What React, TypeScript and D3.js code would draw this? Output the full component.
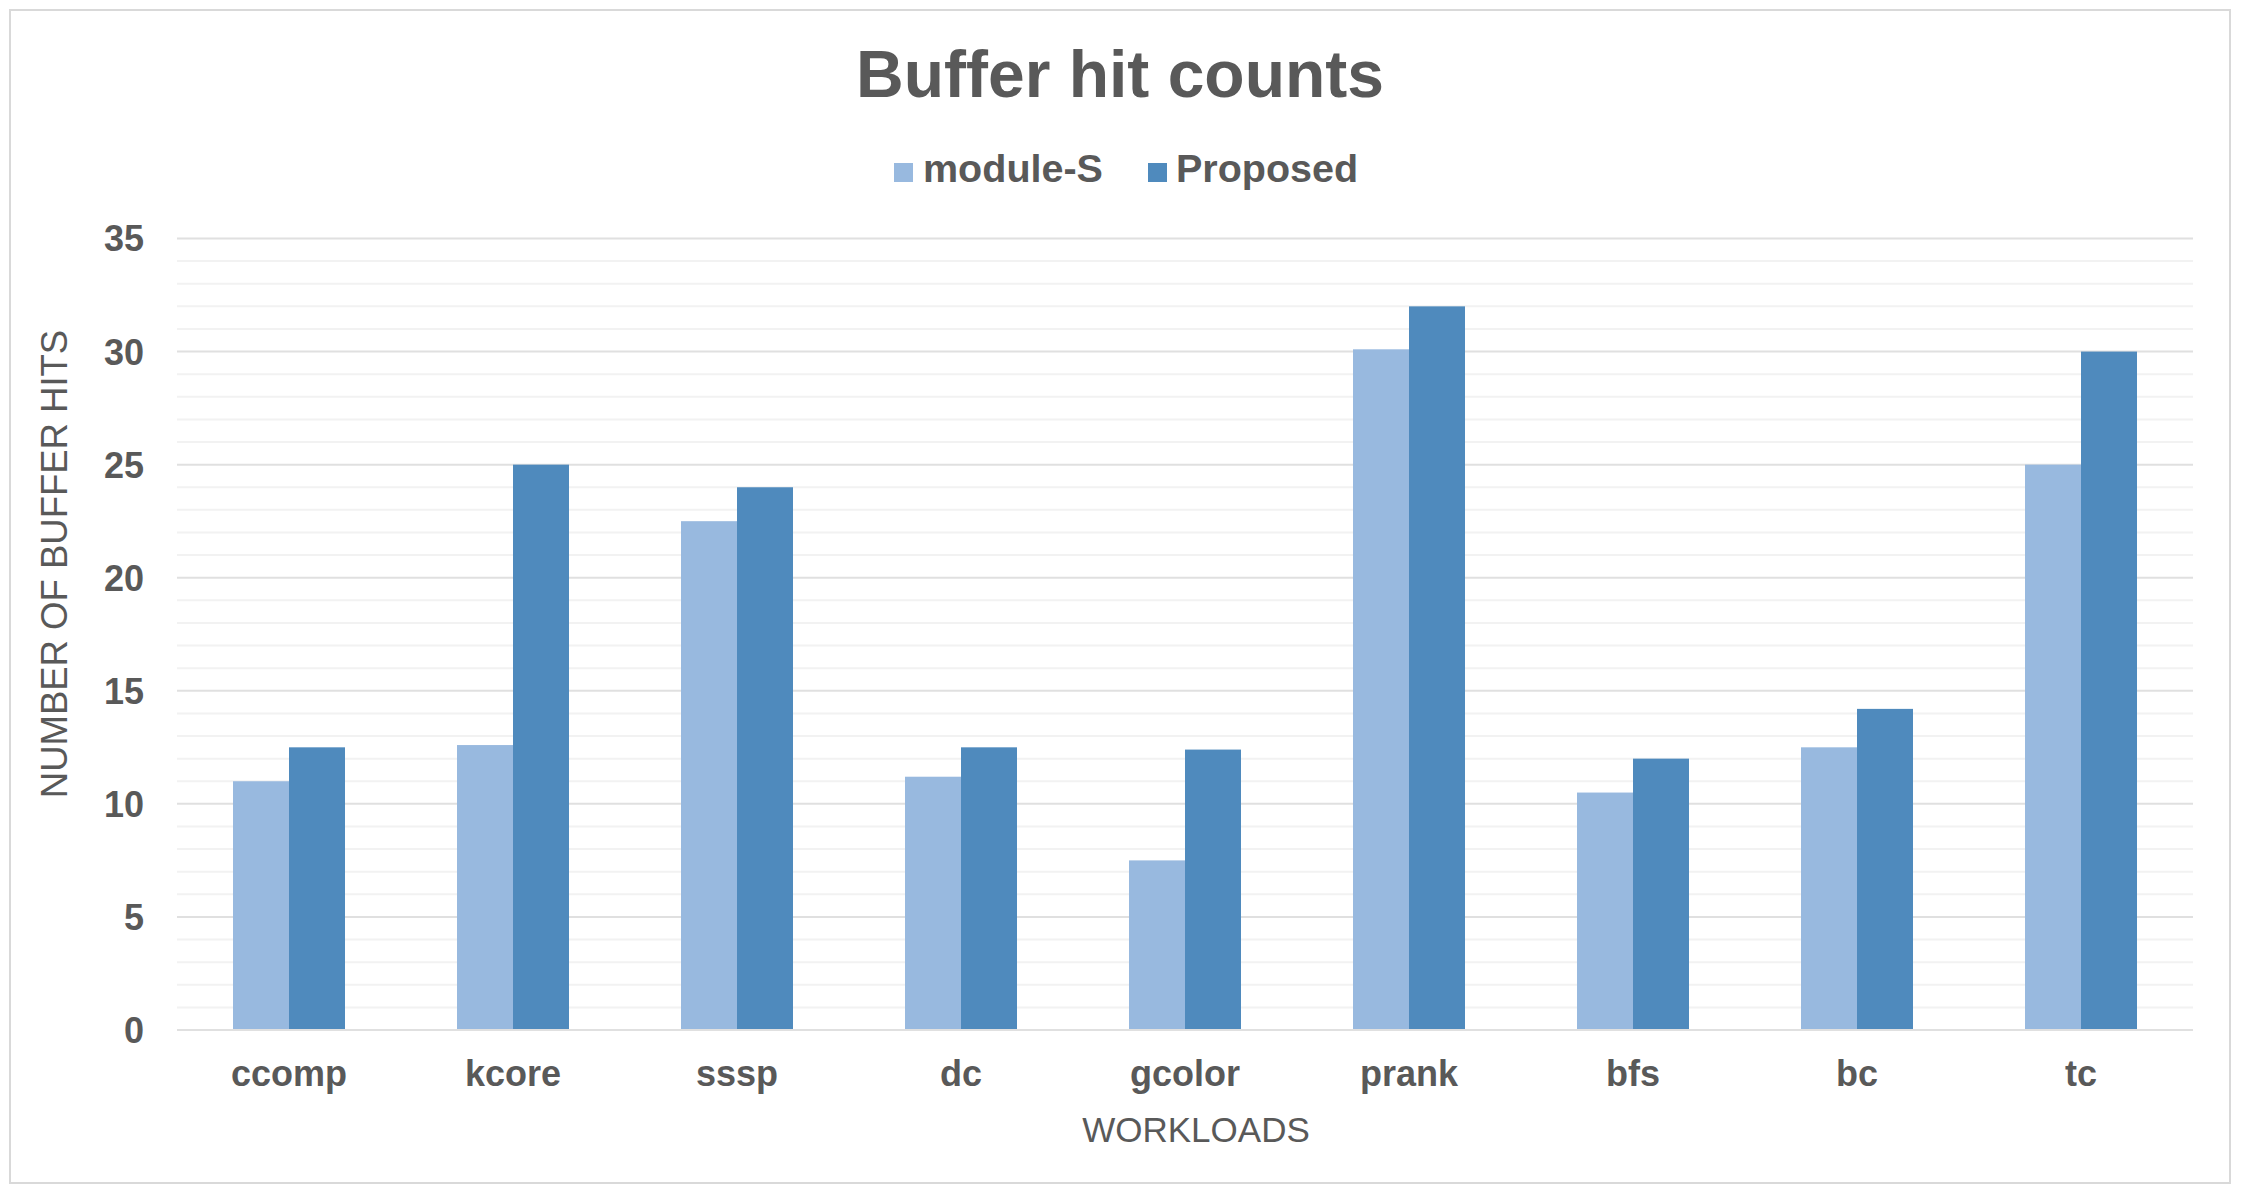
import React from "react";
import * as d3 from "d3";

const categories = ["ccomp", "kcore", "sssp", "dc", "gcolor", "prank", "bfs", "bc", "tc"];
const seriesNames = ["module-S", "Proposed"];
const moduleS = [11.0, 12.6, 22.5, 11.2, 7.5, 30.1, 10.5, 12.5, 25.0];
const proposed = [12.5, 25.0, 24.0, 12.5, 12.4, 32.0, 12.0, 14.2, 30.0];
const seriesColors = ["#98b9df", "#4f8abd"];
const majorTicks = [0, 5, 10, 15, 20, 25, 30, 35];
const minorTicks = d3.range(0, 36, 1);

const W = 2241;
const H = 1198;
const FONT = "'Liberation Sans', Arial, Helvetica, sans-serif";
const TEXT = "#595959";

export default function App() {
  const left = 177;
  const right = 2193;
  const top = 238.5;
  const bottom = 1030;

  const x0 = d3.scaleBand<string>().domain(categories).range([left, right]).padding(0);
  const bw = x0.bandwidth();
  const x1 = d3.scaleBand<string>().domain(seriesNames).range([bw * 0.25, bw * 0.75]).padding(0);
  const y = d3.scaleLinear().domain([0, 35]).range([bottom, top]);

  const series = [moduleS, proposed];

  return (
    <svg
      width={W}
      height={H}
      style={{ position: "absolute", left: 0, top: 0, background: "#fff" }}
      fontFamily={FONT}
    >
      <rect x={0} y={0} width={W} height={H} fill="#ffffff" />
      <rect x={10} y={10} width={2220} height={1173} fill="#ffffff" stroke="#d9d9d9" strokeWidth={2} />

      <text x={1120} y={97} textAnchor="middle" fontSize={66} fontWeight="bold" fill={TEXT}>
        Buffer hit counts
      </text>

      {/* legend */}
      <g>
        <rect x={894} y={163} width={19} height={19} fill={seriesColors[0]} />
        <text x={923} y={182} fontSize={39.5} fontWeight="bold" fill={TEXT}>{seriesNames[0]}</text>
        <rect x={1148} y={163} width={19} height={19} fill={seriesColors[1]} />
        <text x={1176} y={182} fontSize={39.5} fontWeight="bold" fill={TEXT}>{seriesNames[1]}</text>
      </g>

      {/* minor gridlines */}
      {minorTicks.filter((t) => t % 5 !== 0).map((t) => (
        <line key={"m" + t} x1={left} x2={right} y1={y(t)} y2={y(t)} stroke="#f2f2f2" strokeWidth={2} />
      ))}
      {/* major gridlines */}
      {majorTicks.map((t) => (
        <line key={"M" + t} x1={left} x2={right} y1={y(t)} y2={y(t)} stroke="#e0e0e0" strokeWidth={2} />
      ))}

      {/* y tick labels */}
      {majorTicks.map((t) => (
        <text key={"yt" + t} x={144} y={y(t)} dy="0.36em" textAnchor="end" fontSize={36} fontWeight="bold" fill={TEXT}>
          {t}
        </text>
      ))}

      {/* bars */}
      {categories.map((c, i) => (
        <g key={c} transform={`translate(${x0(c)},0)`}>
          {seriesNames.map((s, j) => (
            <rect
              key={s}
              x={x1(s)}
              y={y(series[j][i])}
              width={x1.bandwidth()}
              height={y(0) - y(series[j][i])}
              fill={seriesColors[j]}
            />
          ))}
        </g>
      ))}

      {/* axis line */}
      <line x1={left} x2={right} y1={y(0)} y2={y(0)} stroke="#e0e0e0" strokeWidth={2} />

      {/* x tick labels */}
      {categories.map((c) => (
        <text key={"xt" + c} x={(x0(c) as number) + bw / 2} y={1086} textAnchor="middle" fontSize={36} fontWeight="bold" fill={TEXT}>
          {c}
        </text>
      ))}

      {/* axis titles */}
      <text x={1196} y={1142} textAnchor="middle" fontSize={35} fill={TEXT}>
        WORKLOADS
      </text>
      <text
        transform={`translate(67,564) rotate(-90)`}
        textAnchor="middle"
        fontSize={36.5}
        fill={TEXT}
      >
        NUMBER OF BUFFER HITS
      </text>
    </svg>
  );
}
